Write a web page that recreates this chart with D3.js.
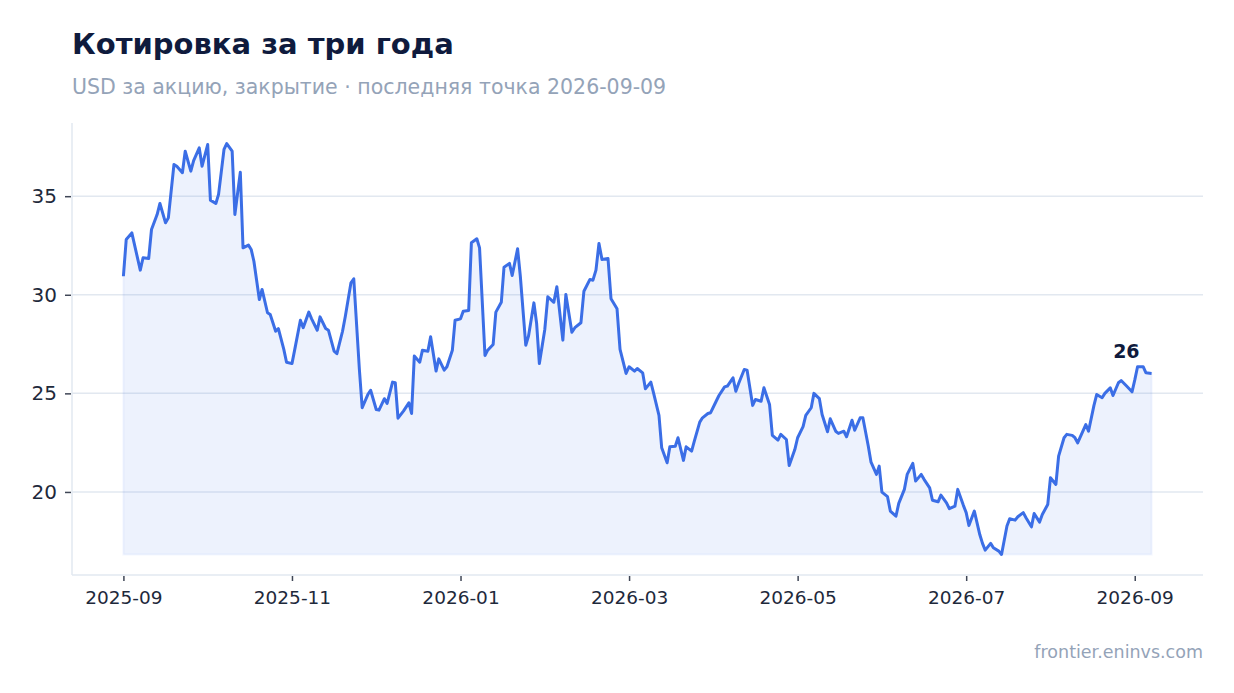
<!doctype html>
<meta charset="utf-8">
<title>Котировка за три года</title>
<style>
    html, body {
        margin: 0;
        background: #ffffff;
    }

    svg {
        display: block;
        font-family: "DejaVu Sans", Verdana, sans-serif;
    }

    .title {
        font-size: 29px;
        font-weight: bold;
        fill: #0f1b3d;
    }

    .subtitle {
        font-size: 20.5px;
        fill: #94a3b8;
    }

    .source {
        font-size: 17.5px;
        fill: #94a3b8;
    }

    .axis text {
        fill: #1e293b;
    }

    .axis line {
        stroke: #3f4656;
        stroke-width: 1.5;
    }

    .axis .domain {
        display: none;
    }

    .grid line {
        stroke: #e2e8f0;
        stroke-width: 1.5;
    }

    .spine {
        stroke: #e2e8f0;
        stroke-width: 1.5;
    }

    .line {
        fill: none;
        stroke: #3b6ee6;
        stroke-width: 3;
        stroke-linejoin: round;
    }

    .area {
        fill: rgba(59, 110, 230, 0.09);
        stroke: rgba(59, 110, 230, 0.06);
        stroke-width: 2;
    }

    .last-label {
        font-size: 19px;
        font-weight: bold;
        fill: #0f1b3d;
    }
</style>
<svg width=1234 height=693 viewBox="0 0 1234 693"></svg>
<script src=https://cdn.jsdelivr.net/npm/d3@7/dist/d3.min.js></script>
<script>
    // days after 2025-09-01 for every point
    var startDate = new Date(2025, 8, 1);
    var dayOffsets = [
        0, 1, 3, 6, 7, 9, 10, 12, 13, 15, 16, 18, 19, 21, 22, 24, 25, 27, 28, 30,
        31, 33, 34, 36, 37, 39, 40, 42, 43, 45, 46, 47, 49, 50, 52, 53, 55, 56, 58, 59,
        61, 62, 64, 65, 67, 68, 70, 71, 73, 74, 76, 77, 79, 80, 82, 83, 85, 86, 88, 89,
        91, 92, 94, 95, 97, 98, 99, 101, 103, 104, 105, 107, 108, 110, 111, 113, 114, 116, 117, 119,
        120, 122, 123, 125, 126, 128, 129, 131, 132, 134, 135, 137, 138, 140, 141, 143, 144, 146, 147, 149,
        150, 151, 153, 154, 156, 157, 159, 160, 162, 163, 165, 166, 168, 169, 170, 171, 172, 174, 175, 177,
        178, 180, 181, 183, 184, 186, 187, 189, 190, 192, 193, 195, 196, 198, 199, 201, 202, 204, 205, 207,
        208, 210, 211, 213, 214, 216, 217, 219, 220, 221, 223, 224, 226, 227, 229, 230, 232, 233, 235, 236,
        238, 239, 241, 242, 244, 245, 247, 248, 250, 251, 253, 254, 256, 257, 259, 260, 262, 263, 265, 266,
        268, 269, 271, 272, 273, 275, 276, 278, 279, 281, 282, 284, 285, 287, 288, 290, 291, 293, 294, 296,
        297, 299, 300, 302, 303, 304, 306, 308, 309, 310, 312, 313, 315, 316, 318, 319, 321, 322, 324, 325,
        327, 328, 330, 331, 333, 334, 336, 337, 339, 340, 342, 343, 344, 347, 348, 350, 351, 353, 354, 356,
        357, 359, 360, 362, 364, 365, 366, 368, 369, 371
    ];

    // close price, USD
    var closes = [
        30.94, 32.80, 33.14, 31.25, 31.88, 31.84, 33.31, 34.07, 34.63, 33.65, 33.90, 36.61, 36.52, 36.19, 37.28, 36.27, 36.80, 37.45, 36.52, 37.62,
        34.80, 34.63, 35.09, 37.37, 37.67, 37.28, 34.07, 36.22, 32.38, 32.52, 32.30, 31.70, 29.76, 30.27, 29.09, 29.00, 28.15, 28.28, 27.23, 26.58,
        26.51, 27.23, 28.71, 28.33, 29.12, 28.78, 28.20, 28.88, 28.29, 28.20, 27.14, 27.01, 28.15, 28.91, 30.61, 30.81, 26.21, 24.27, 24.94, 25.16,
        24.18, 24.15, 24.73, 24.49, 25.57, 25.54, 23.74, 24.10, 24.52, 23.98, 26.89, 26.58, 27.19, 27.14, 27.87, 26.13, 26.75, 26.18, 26.35, 27.19,
        28.71, 28.78, 29.17, 29.20, 32.64, 32.84, 32.38, 26.92, 27.19, 27.48, 29.12, 29.62, 31.40, 31.59, 30.98, 32.33, 30.94, 27.44, 27.90, 29.59,
        28.54, 26.51, 28.24, 29.90, 29.62, 30.41, 27.70, 30.02, 28.10, 28.33, 28.58, 30.18, 30.78, 30.74, 31.25, 32.60, 31.79, 31.84, 29.80, 29.29,
        27.23, 26.01, 26.35, 26.13, 26.26, 26.04, 25.23, 25.57, 25.03, 23.88, 22.24, 21.48, 22.29, 22.32, 22.75, 21.60, 22.29, 22.07, 22.58, 23.54,
        23.76, 23.98, 24.02, 24.60, 24.89, 25.33, 25.37, 25.79, 25.11, 25.50, 26.21, 26.18, 24.39, 24.69, 24.60, 25.28, 24.44, 22.87, 22.63, 22.92,
        22.66, 21.34, 22.15, 22.75, 23.31, 23.88, 24.27, 25.00, 24.73, 23.93, 23.05, 23.71, 23.08, 22.97, 23.08, 22.80, 23.64, 23.13, 23.76, 23.76,
        22.32, 21.51, 20.89, 21.31, 19.99, 19.76, 19.03, 18.77, 19.42, 20.13, 20.89, 21.45, 20.55, 20.89, 20.64, 20.21, 19.58, 19.50, 19.84, 19.45,
        19.15, 19.28, 20.13, 19.32, 18.95, 18.30, 19.03, 17.84, 17.39, 17.05, 17.39, 17.17, 17.00, 16.83, 18.27, 18.64, 18.57, 18.74, 18.95, 18.69,
        18.23, 18.91, 18.47, 18.86, 19.36, 20.72, 20.38, 21.82, 22.75, 22.92, 22.87, 22.75, 22.49, 23.42, 23.08, 24.39, 24.94, 24.78, 25.00, 25.28,
        24.89, 25.54, 25.65, 25.37, 25.08, 25.67, 26.35, 26.35, 26.04, 26.01
    ];

    var yTicks = [20, 25, 30, 35];
    var tickMonths = ['2025-09', '2025-11', '2026-01', '2026-03', '2026-05', '2026-07', '2026-09'];
    var titleText = 'Котировка за три года';
    var subtitleText = 'USD за акцию, закрытие · последняя точка 2026-09-09';
    var sourceText = 'frontier.eninvs.com';

    var svg = d3.select('svg');
    var plot = {left: 72, right: 1203, top: 123, bottom: 575};
    var parseMonth = d3.timeParse('%Y-%m');

    var points = dayOffsets.map(function (d, i) {
        return {date: d3.timeDay.offset(startDate, d), close: closes[i]};
    });

    // the axis gives every month the same width
    function monthIndex(date) {
        var m0 = d3.timeMonth.floor(date);
        var m1 = d3.timeMonth.offset(m0, 1);
        return (m0.getFullYear() - startDate.getFullYear()) * 12 + m0.getMonth() - startDate.getMonth() +
            (date - m0) / (m1 - m0);
    }

    var mFirst = monthIndex(points[0].date);
    var mLast = monthIndex(points[points.length - 1].date);
    var mPad = (mLast - mFirst) * 0.05;
    var minClose = d3.min(closes);
    var maxClose = d3.max(closes);
    var pad = (maxClose - minClose) * 0.05;

    var x = d3.scaleLinear()
        .domain([mFirst - mPad, mLast + mPad])
        .range([plot.left, plot.right]);
    var y = d3.scaleLinear()
        .domain([minClose - pad, maxClose + pad])
        .range([plot.bottom, plot.top]);

    function px(d) {
        return x(monthIndex(d.date));
    }

    function py(d) {
        return y(d.close);
    }

    // horizontal grid
    svg.append('g')
        .attr('class', 'grid')
        .selectAll('line')
        .data(yTicks)
        .enter()
        .append('line')
        .attr('x1', plot.left)
        .attr('x2', plot.right)
        .attr('y1', y)
        .attr('y2', y);

    var area = d3.area()
        .x(px)
        .y0(y(minClose))
        .y1(py);

    var line = d3.line()
        .x(px)
        .y(py);

    svg.append('path')
        .datum(points)
        .attr('class', 'area')
        .attr('d', area);

    svg.append('path')
        .datum(points)
        .attr('class', 'line')
        .attr('d', line);

    // spines
    svg.append('line')
        .attr('class', 'spine')
        .attr('x1', plot.left).attr('x2', plot.left)
        .attr('y1', plot.top).attr('y2', plot.bottom);
    svg.append('line')
        .attr('class', 'spine')
        .attr('x1', plot.left).attr('x2', plot.right)
        .attr('y1', plot.bottom).attr('y2', plot.bottom);

    var xAxis = svg.append('g')
        .attr('class', 'axis x')
        .attr('transform', 'translate(0,' + (plot.bottom + 1) + ')')
        .call(d3.axisBottom(x)
            .tickValues(tickMonths.map(function (m) { return monthIndex(parseMonth(m)); }))
            .tickFormat(function (v, i) { return tickMonths[i]; })
            .tickSize(5)
            .tickPadding(10));
    xAxis.attr('font-family', null).attr('font-size', null);
    xAxis.selectAll('text').style('font-size', '18.5px');

    var yAxis = svg.append('g')
        .attr('class', 'axis y')
        .attr('transform', 'translate(' + (plot.left - 1) + ',0)')
        .call(d3.axisLeft(y)
            .tickValues(yTicks)
            .tickSize(6)
            .tickPadding(8));
    yAxis.attr('font-family', null).attr('font-size', null);
    yAxis.selectAll('text').style('font-size', '20px');

    // last value
    var lastPoint = points[points.length - 1];
    svg.append('text')
        .attr('class', 'last-label')
        .attr('x', px(lastPoint) - 12)
        .attr('y', py(lastPoint) - 15)
        .attr('text-anchor', 'end')
        .text(d3.format('.0f')(lastPoint.close));

    svg.append('text')
        .attr('class', 'title')
        .attr('x', 72)
        .attr('y', 54)
        .text(titleText);

    svg.append('text')
        .attr('class', 'subtitle')
        .attr('x', 72)
        .attr('y', 94)
        .text(subtitleText);

    svg.append('text')
        .attr('class', 'source')
        .attr('x', 1203)
        .attr('y', 658)
        .attr('text-anchor', 'end')
        .text(sourceText);
</script>
